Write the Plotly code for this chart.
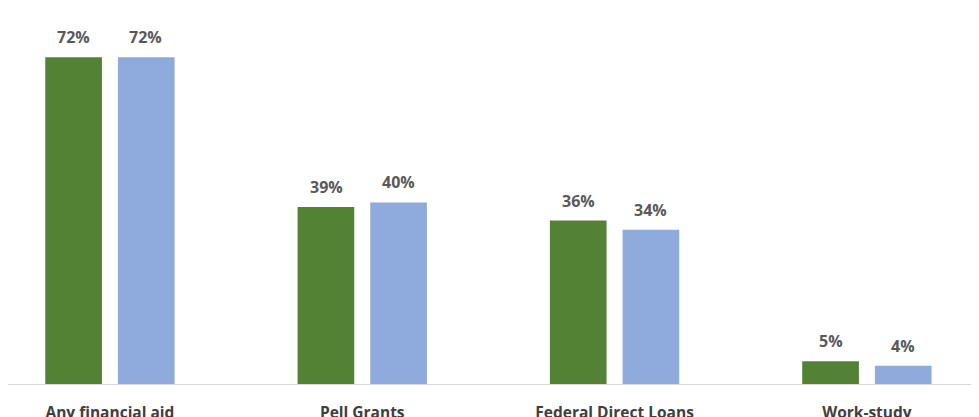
import plotly.graph_objects as go

categories = ["Any financial aid", "Pell Grants", "Federal Direct Loans", "Work-study"]
series_a = [72, 39, 36, 5]
series_b = [72, 40, 34, 4]
series_names = ["Group A", "Group B"]
colors = ["#548235", "#8FAADC"]

fig = go.Figure()
for name, vals, col in zip(series_names, [series_a, series_b], colors):
    fig.add_trace(go.Bar(x=categories, y=vals, name=name, marker_color=col,
                         marker_line_width=0, hoverinfo="skip"))

annotations = []
for vals, shift in zip([series_a, series_b], [-36, 36]):
    for c, v in zip(categories, vals):
        annotations.append(dict(x=c, y=v, xref="x", yref="y", text=f"{v}%",
                                showarrow=False, yanchor="bottom", yshift=7, xshift=shift,
                                font=dict(family="Open Sans", size=16, color="#595959",
                                          weight="bold")))

fig.update_layout(
    width=979, height=417,
    margin=dict(l=0, r=0, t=12, b=41),
    paper_bgcolor="white", plot_bgcolor="white",
    barmode="group", bargap=0.424, bargroupgap=0.22,
    showlegend=False,
    annotations=annotations,
    xaxis=dict(range=[-0.404, 3.476], showline=True, linecolor="#D9D9D9", linewidth=1,
               ticks="", showgrid=False, ticklabelstandoff=14,
               tickfont=dict(family="Open Sans", size=15.5, color="#404040", weight="bold")),
    yaxis=dict(range=[0, 80.2], visible=False, showgrid=False, zeroline=False),
)

fig.write_html("out.html")
